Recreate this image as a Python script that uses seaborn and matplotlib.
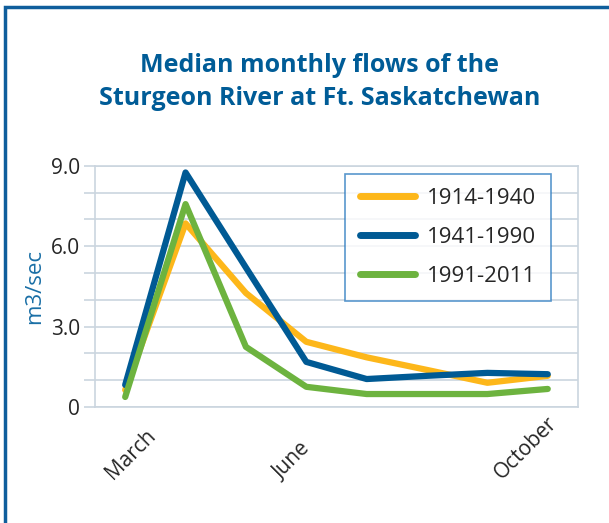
import numpy as np
import pandas as pd
import matplotlib
matplotlib.use("Agg")
import matplotlib.pyplot as plt
import seaborn as sns
from matplotlib.patches import Rectangle
from matplotlib.ticker import MultipleLocator, FixedLocator, FuncFormatter
from matplotlib.transforms import ScaledTranslation

months = ["March", "April", "May", "June", "July", "August", "September", "October"]
shown_labels = ["March", "June", "October"]
periods = ["1914-1940", "1941-1990", "1991-2011"]
flow_1914 = [0.63, 6.85, 4.25, 2.43, 1.85, 1.38, 0.90, 1.16]
flow_1941 = [0.82, 8.75, 5.20, 1.68, 1.04, 1.16, 1.27, 1.22]
flow_1991 = [0.37, 7.57, 2.24, 0.75, 0.48, 0.48, 0.48, 0.67]
colors = ["#FDB71A", "#005A94", "#6DB33F"]

rows = []
for p, vals in zip(periods, [flow_1914, flow_1941, flow_1991]):
    for i, v in enumerate(vals):
        rows.append({"month": i, "flow": v, "period": p})
df = pd.DataFrame(rows)

sns.set_style("white")
plt.rcParams["font.family"] = ["Open Sans", "DejaVu Sans"]

fig = plt.figure(figsize=(6.09, 5.23), dpi=100)
ax = fig.add_axes([0.156, 0.222, 0.793, 0.461])

sns.lineplot(data=df, x="month", y="flow", hue="period", palette=colors,
             linewidth=4.5, ax=ax, legend=True)


def ylab(v, _):
    v = round(v)
    if v == 0:
        return "0"
    return f"{v:.1f}" if v % 3 == 0 else ""


grid_c = "#CBD5DF"
ax.set_xlim(-0.5, len(months) - 0.5)
ax.set_ylim(0, 9)
ax.yaxis.set_major_locator(MultipleLocator(1))
ax.yaxis.set_major_formatter(FuncFormatter(ylab))
ax.grid(axis="y", color=grid_c, linewidth=1.2)
ax.set_axisbelow(True)

# month labels sit like the spreadsheet's rotated labels (start low-left)
pos = [months.index(m) for m in shown_labels]
ax.xaxis.set_major_locator(FixedLocator(pos))
ax.set_xticklabels(shown_labels, rotation=45, ha="left", va="bottom",
                   rotation_mode="anchor", fontsize=15)
ax.xaxis.set_minor_locator(FixedLocator(np.arange(-0.5, len(months), 1)))
ax.tick_params(axis="x", which="major", length=0, pad=55)
ax.tick_params(axis="x", which="minor", length=5, color=grid_c, width=1.2)
ax.tick_params(axis="y", length=8, color=grid_c, width=1.2, labelsize=15, pad=3)
ax.tick_params(bottom=True, left=True)
shifts = [-0.09, -0.22, -0.42]
for lab, dx in zip(ax.get_xticklabels(), shifts):
    lab.set_transform(lab.get_transform() + ScaledTranslation(dx, 0, fig.dpi_scale_trans))

for s in ["left", "bottom", "right", "top"]:
    ax.spines[s].set_color(grid_c)
    ax.spines[s].set_linewidth(1.2)

ax.set_xlabel("")
ax.set_ylabel("m3/sec", color="#1A6FA6", fontsize=16, labelpad=4)

leg = ax.legend(loc="upper right", bbox_to_anchor=(0.944, 0.967), fontsize=16,
                frameon=True, fancybox=False, handlelength=2.5, borderpad=0.65,
                labelspacing=0.8, handletextpad=0.55, borderaxespad=0)
leg.get_frame().set_edgecolor("#2F7DC0")
leg.get_frame().set_linewidth(1.2)
for line in leg.get_lines():
    line.set_linewidth(5)
    line.set_solid_capstyle("round")

fig.text(0.525, 0.843, "Median monthly flows of the\nSturgeon River at Ft. Saskatchewan",
         ha="center", va="center", fontsize=18, fontweight="bold", color="#005C97",
         linespacing=1.4)

fig.patches.append(Rectangle((0.009, -0.05), 1.2, 1.037, transform=fig.transFigure,
                             fill=False, edgecolor="#0F5E9C", linewidth=2.5))

fig.savefig("out.png", dpi=100)
